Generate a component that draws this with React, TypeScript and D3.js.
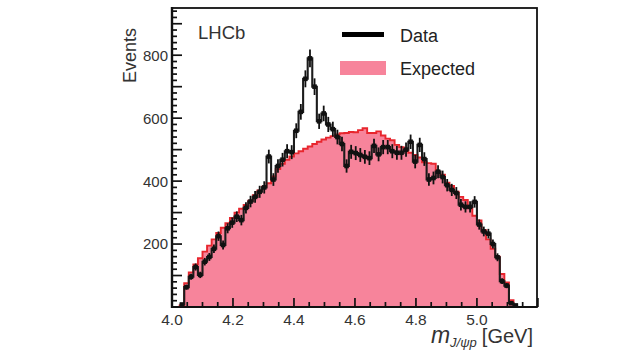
import React from "react";
import * as d3 from "d3";

// Histogram binning (GeV)
const binStart = 4.025;
const binWidth = 0.015;

// Expected (pink histogram), events per bin
const expected = [
  5, 76, 110, 135, 155, 176, 195, 215, 235, 252,
  266, 283, 300, 312, 324, 338, 355, 370, 382, 393,
  415, 438, 455, 468, 478, 488, 495, 503, 510, 518,
  525, 532, 538, 543, 548, 552, 553, 556, 555, 562,
  568, 553, 553, 558, 545, 535, 530, 515, 508, 498,
  490, 483, 475, 460, 457, 455, 430, 420, 395, 385,
  366, 350, 340, 314, 290, 275, 244, 215, 185, 160,
  105, 78, 22, 0, 0, 0, 0, 0, 0, 0,
];

// Data (black points), events per bin
const data = [
  8, 63, 96, 127, 102, 144, 159, 185, 225, 197,
  250, 268, 287, 276, 315, 335, 350, 366, 380, 478,
  405, 448, 468, 495, 492, 560, 620, 725, 790, 700,
  590, 615, 580, 565, 540, 518, 448, 493, 489, 483,
  477, 473, 512, 485, 508, 508, 495, 490, 490, 500,
  525, 462, 515, 470, 405, 410, 430, 413, 387, 372,
  362, 325, 318, 318, 334, 262, 240, 233, 200, 158,
  82, 68, 12, 5,
];

const xTickLabels = ["4.0", "4.2", "4.4", "4.6", "4.8", "5.0"];
const yTickLabels = ["200", "400", "600", "800"];
const legendLabels = ["Data", "Expected"];

const FONT = "'Liberation Sans', Arial, Helvetica, sans-serif";
const TEXT = "#333";
const PINK = "#f7849b";
const RED = "#e8262e";

export default function App() {
  const left = 172, right = 537, top = 8, bottom = 307;
  const x = d3.scaleLinear().domain([4.0, 5.2]).range([left, left + (right - left) * (1.2 / 1.197)]);
  const y = d3.scaleLinear().domain([0, 950]).range([bottom, top]);

  const expPts: [number, number][] = [[4.0, 0]];
  expected.forEach((v, i) => expPts.push([binStart + i * binWidth, v]));
  expPts.push([binStart + expected.length * binWidth, expected[expected.length - 1]]);

  const dataPts: [number, number][] = [];
  data.forEach((v, i) => dataPts.push([binStart + i * binWidth, v]));
  dataPts.push([binStart + data.length * binWidth, data[data.length - 1]]);

  const area = d3
    .area<[number, number]>()
    .curve(d3.curveStepAfter)
    .x((d) => x(d[0]))
    .y0(y(0))
    .y1((d) => y(d[1]));
  const line = d3
    .line<[number, number]>()
    .curve(d3.curveStepAfter)
    .x((d) => x(d[0]))
    .y((d) => y(d[1]));

  const yMinor = d3.range(20, 950, 20);
  const xMinor = d3.range(4.05, 5.2, 0.05);

  return (
    <svg width={640} height={360} style={{ position: "absolute", left: 0, top: 0, background: "#fff" }}>
      <defs>
        <clipPath id="plotclip">
          <rect x={left} y={top} width={right - left} height={bottom - top} />
        </clipPath>
      </defs>

      <g clipPath="url(#plotclip)">
        <path d={area(expPts) || ""} fill={PINK} />
        <path d={line(expPts) || ""} fill="none" stroke={RED} strokeWidth={1.9} />
        <path d={line(dataPts) || ""} fill="none" stroke="#1c1c1c" strokeWidth={2.1} />
        {data.map((v, i) => {
          if (v <= 0) return null;
          const cx = x(binStart + (i + 0.5) * binWidth);
          const e = Math.sqrt(v);
          return (
            <g key={i}>
              <line x1={cx} x2={cx} y1={y(v - e)} y2={y(v + e)} stroke="#111" strokeWidth={1.8} />
              <rect x={cx - 2.3} y={y(v) - 2.3} width={4.6} height={4.6} fill="#111" />
            </g>
          );
        })}
      </g>

      {/* frame */}
      <rect x={left} y={top} width={right - left} height={bottom - top} fill="none" stroke="#111" strokeWidth={1.8} />
      <line x1={left} x2={left} y1={top - 1} y2={bottom + 1} stroke="#111" strokeWidth={2.4} />
      <line x1={left} x2={right} y1={bottom} y2={bottom} stroke="#111" strokeWidth={2.2} />

      {/* y ticks */}
      {yMinor.map((v) => {
        const major = v % 100 === 0;
        return (
          <line key={v} x1={left} x2={left + (major ? 10 : 5)} y1={y(v)} y2={y(v)} stroke="#111" strokeWidth={1.7} />
        );
      })}
      {yTickLabels.map((t) => (
        <text key={t} x={left - 4} y={y(+t)} dy="0.36em" textAnchor="end" fontFamily={FONT} fontSize={15} fill={TEXT}>
          {t}
        </text>
      ))}

      {/* x ticks */}
      {xMinor.map((v, i) => {
        const major = Math.abs(Math.round(v * 5) - v * 5) < 1e-6;
        return (
          <line key={i} x1={x(v)} x2={x(v)} y1={bottom} y2={bottom - (major ? 9 : 5)} stroke="#111" strokeWidth={1.7} />
        );
      })}
      {xTickLabels.map((t) => (
        <text key={t} x={x(+t)} y={bottom + 18} textAnchor="middle" fontFamily={FONT} fontSize={15.5} fill={TEXT}>
          {t}
        </text>
      ))}

      {/* axis titles */}
      <text transform={`translate(136,28) rotate(-90)`} textAnchor="end" fontFamily={FONT} fontSize={18} fill={TEXT}>
        Events
      </text>
      <text x={533} y={343} textAnchor="end" fontFamily={FONT} fill={TEXT}>
        <tspan fontSize={23} fontStyle="italic">m</tspan>
        <tspan fontSize={13} fontStyle="italic" dy={4}>J/ψp</tspan>
        <tspan fontSize={20} dy={-4} dx={5}>[GeV]</tspan>
      </text>

      {/* LHCb label */}
      <text x={198} y={39} fontFamily={FONT} fontSize={18.5} fill={TEXT}>
        LHCb
      </text>

      {/* legend */}
      <line x1={342} x2={384} y1={34.5} y2={34.5} stroke="#000" strokeWidth={5} />
      <text x={400} y={42} fontFamily={FONT} fontSize={18} fill="#222">
        {legendLabels[0]}
      </text>
      <rect x={340} y={61} width={46} height={14} fill={PINK} />
      <text x={400} y={75} fontFamily={FONT} fontSize={18} fill="#222">
        {legendLabels[1]}
      </text>
    </svg>
  );
}
